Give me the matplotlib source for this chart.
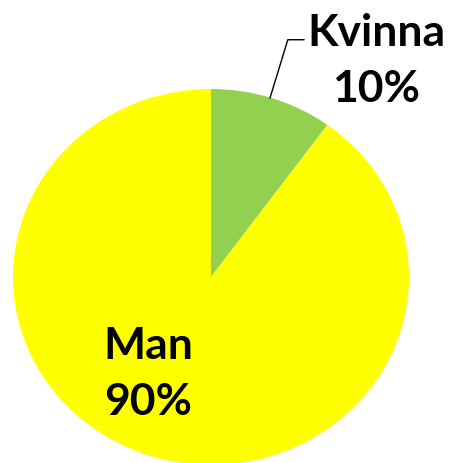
import matplotlib
matplotlib.use("Agg")
import matplotlib.pyplot as plt

labels = ["Kvinna", "Man"]
shares = [10, 90]
colors = ["#92D050", "#FFFF00"]

W, H = 450, 464
fig = plt.figure(figsize=(W / 100, H / 100), dpi=100)
ax = fig.add_axes([0, 0, 1, 1])

# the pie in the reference is slightly stretched sideways (rx > ry)
cx, cy, rx, ry = 211, 278, 198, 188   # pixels, y from top


def px(x, y):
    # pixel position (from top-left) -> data coords of a unit pie at 0,0
    return (x - cx) / rx, (cy - y) / ry


ax.pie(shares, colors=colors, startangle=90, counterclock=False,
       radius=1, wedgeprops=dict(linewidth=0))
ax.set_aspect("auto")
ax.set_xlim(-cx / rx, (W - cx) / rx)
ax.set_ylim((cy - H) / ry, cy / ry)
ax.axis("off")

font = dict(family=["Lato", "DejaVu Sans"], fontweight="bold", fontsize=32,
            ha="center", va="center", linespacing=1.5)

# Kvinna label with leader line
ax.annotate(f"{labels[0]}\n{shares[0]}%", xy=px(270, 99), xytext=px(376, 61),
            arrowprops=dict(arrowstyle="-", color="black", lw=1,
                            connectionstyle="angle,angleA=0,angleB=73,rad=0",
                            shrinkA=0, shrinkB=0,
                            relpos=(0.0, 0.71)),
            **font)

ax.text(*px(148, 374), f"{labels[1]}\n{shares[1]}%", **font)

fig.savefig("out.png", dpi=100)
